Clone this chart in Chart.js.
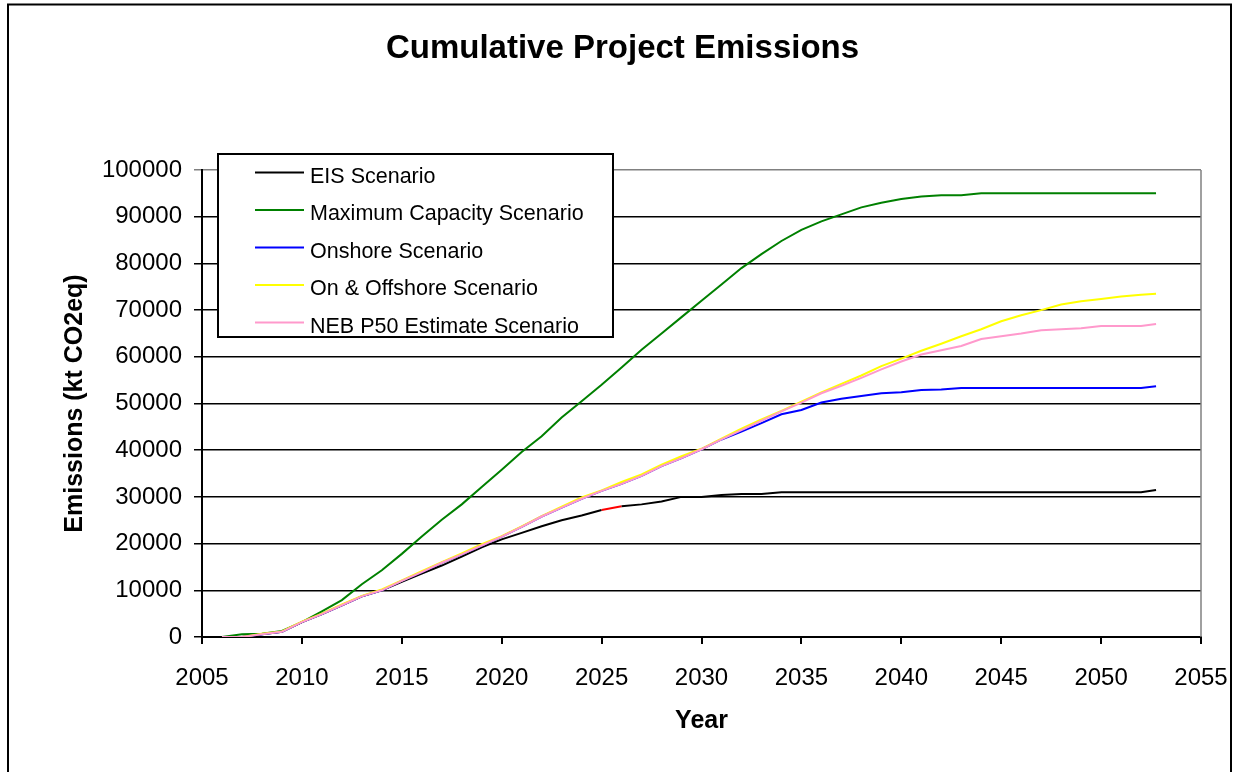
<!DOCTYPE html>
<html>
<head>
<meta charset="utf-8">
<script src="https://cdn.jsdelivr.net/npm/chart.js@4"></script>
<style>
  html, body { margin: 0; padding: 0; background: #fff; }
  canvas { display: block; }
</style>
</head>
<body>
<canvas id="c" width="1235" height="772"></canvas>
<script>
// ---- Data ----
const years = [2006, 2007, 2008, 2009, 2010, 2011, 2012, 2013, 2014, 2015,
  2016, 2017, 2018, 2019, 2020, 2021, 2022, 2023, 2024, 2025,
  2026, 2027, 2028, 2029, 2030, 2031, 2032, 2033, 2034, 2035,
  2036, 2037, 2038, 2039, 2040, 2041, 2042, 2043, 2044, 2045,
  2046, 2047, 2048, 2049, 2050, 2051, 2052, 2052.75];

const eisScenario = [0, 0, 600, 1100, 3200, 4900, 6800, 8700, 10000, 11800,
  13600, 15300, 17200, 19200, 20900, 22300, 23700, 25000, 26000, 27200,
  28000, 28400, 29000, 30000, 30000, 30400, 30600, 30600, 31000, 31000,
  31000, 31000, 31000, 31000, 31000, 31000, 31000, 31000, 31000, 31000,
  31000, 31000, 31000, 31000, 31000, 31000, 31000, 31500];

const maxCapacityScenario = [0, 600, 700, 1300, 3200, 5500, 7900, 11300, 14300, 17800,
  21500, 25100, 28400, 32100, 35800, 39600, 43000, 47000, 50500, 54000,
  57700, 61500, 65000, 68500, 72000, 75500, 79000, 82000, 84800, 87200,
  89000, 90500, 92000, 93000, 93800, 94300, 94600, 94600, 95000, 95000,
  95000, 95000, 95000, 95000, 95000, 95000, 95000, 95000];

const onshoreScenario = [0, 0, 600, 1100, 3200, 4900, 6800, 8700, 10000, 12000,
  13900, 15900, 17700, 19600, 21500, 23600, 25800, 27700, 29600, 31300,
  32800, 34500, 36600, 38300, 40200, 42300, 44000, 45800, 47700, 48600,
  50200, 51000, 51600, 52200, 52400, 52900, 53000, 53300, 53300, 53300,
  53300, 53300, 53300, 53300, 53300, 53300, 53300, 53700];

const onOffshoreScenario = [0, 0, 700, 1200, 3300, 5000, 7000, 8800, 10200, 12100,
  14100, 16000, 17900, 19900, 21600, 23700, 25900, 27900, 29900, 31400,
  33200, 34800, 36900, 38700, 40300, 42500, 44600, 46600, 48400, 50400,
  52400, 54200, 56000, 58000, 59600, 61300, 62800, 64400, 65900, 67600,
  68900, 70000, 71200, 71900, 72400, 72900, 73300, 73500];

const nebP50Scenario = [0, 0, 600, 1100, 3200, 4900, 6800, 8700, 10000, 12000,
  13900, 15900, 17700, 19600, 21500, 23600, 25800, 27700, 29600, 31300,
  32800, 34500, 36600, 38300, 40200, 42300, 44300, 46300, 48300, 50200,
  52200, 53800, 55500, 57300, 59000, 60500, 61400, 62300, 63800, 64400,
  65000, 65700, 65900, 66100, 66600, 66600, 66600, 67000];

const seriesLabels = ['EIS Scenario', 'Maximum Capacity Scenario', 'Onshore Scenario',
  'On & Offshore Scenario', 'NEB P50 Estimate Scenario'];
const xTicks = [2005, 2010, 2015, 2020, 2025, 2030, 2035, 2040, 2045, 2050, 2055];
const yTicks = [0, 10000, 20000, 30000, 40000, 50000, 60000, 70000, 80000, 90000, 100000];
const highlightedSegmentStart = 2025; // EIS segment drawn in red (2025 -> 2026)

// ---- Build chart ----
const FONT = "'Liberation Sans', Arial, Helvetica, sans-serif";
const colors = ['#000000', '#008000', '#0000ff', '#ffff00', '#ff99cc'];
const seriesValues = [eisScenario, maxCapacityScenario, onshoreScenario, onOffshoreScenario, nebP50Scenario];

const datasets = seriesValues.map((vals, i) => ({
  label: seriesLabels[i],
  data: years.map((y, k) => ({ x: y, y: vals[k] })),
  borderColor: colors[i],
  backgroundColor: colors[i],
  borderWidth: 2,
  pointRadius: 0,
  tension: 0,
  fill: false,
  order: seriesValues.length - 1 - i,
  segment: i === 0 ? {
    borderColor: ctx => ctx.p0.parsed.x === highlightedSegmentStart ? '#ff0000' : undefined
  } : undefined
}));

const frame = {
  id: 'frame',
  beforeDraw(chart) {
    const ctx = chart.ctx;
    ctx.save();
    ctx.fillStyle = '#fff';
    ctx.fillRect(0, 0, chart.width, chart.height);
    ctx.strokeStyle = '#000';
    ctx.lineWidth = 2;
    ctx.beginPath();
    ctx.moveTo(8, chart.height + 5);
    ctx.lineTo(8, 4.5);
    ctx.lineTo(1231, 4.5);
    ctx.lineTo(1231, chart.height + 5);
    ctx.stroke();
    ctx.restore();
  },
  beforeDatasetsDraw(chart) {
    const a = chart.chartArea, ctx = chart.ctx;
    ctx.save();
    ctx.strokeStyle = '#808080';
    ctx.lineWidth = 1.5;
    ctx.beginPath();
    ctx.moveTo(a.right, a.top);
    ctx.lineTo(a.right, a.bottom);
    ctx.stroke();
    ctx.restore();
  }
};

const boxLegend = {
  id: 'boxLegend',
  afterDraw(chart) {
    const ctx = chart.ctx;
    const L = 218, T = 154, W = 395, H = 183;
    ctx.save();
    ctx.fillStyle = '#fff';
    ctx.fillRect(L, T, W, H);
    ctx.strokeStyle = '#000';
    ctx.lineWidth = 2;
    ctx.strokeRect(L, T, W, H);
    ctx.font = '21.5px ' + FONT;
    ctx.textBaseline = 'alphabetic';
    ctx.textAlign = 'left';
    chart.data.datasets.forEach((ds, i) => {
      const y = 172.5 + i * 37.5;
      ctx.strokeStyle = ds.borderColor;
      ctx.lineWidth = 2;
      ctx.beginPath();
      ctx.moveTo(255, y);
      ctx.lineTo(304, y);
      ctx.stroke();
      ctx.fillStyle = '#000';
      ctx.fillText(ds.label, 310, y + 10);
    });
    ctx.restore();
  }
};

Chart.defaults.color = '#000';
Chart.defaults.font.family = FONT;

new Chart(document.getElementById('c'), {
  type: 'line',
  data: { datasets },
  plugins: [frame, boxLegend],
  options: {
    responsive: false,
    animation: false,
    events: [],
    layout: { padding: { top: 0, right: 34, bottom: 0, left: 44 } },
    plugins: {
      legend: { display: false },
      tooltip: { enabled: false },
      title: {
        display: true,
        text: 'Cumulative Project Emissions',
        color: '#000',
        font: { size: 33, weight: 'bold', family: FONT },
        padding: { top: 29, bottom: 101.4 }
      }
    },
    scales: {
      x: {
        type: 'linear',
        min: xTicks[0],
        max: xTicks[xTicks.length - 1],
        afterBuildTicks: s => { s.ticks = xTicks.map(v => ({ value: v })); },
        afterFit: s => { s.height = 135; s.paddingLeft = 0; s.paddingRight = 0; },
        ticks: {
          callback: v => String(v),
          font: { size: 24, family: FONT },
          color: '#000',
          padding: 20,
          maxRotation: 0,
          autoSkip: false
        },
        grid: { drawOnChartArea: false, drawTicks: true, tickLength: 7, color: '#000', lineWidth: 2 },
        border: { display: true, color: '#000', width: 2 },
        title: {
          display: true,
          text: 'Year',
          color: '#000',
          font: { size: 25, weight: 'bold', family: FONT },
          padding: { top: 0, bottom: 36 }
        }
      },
      y: {
        type: 'linear',
        min: yTicks[0],
        max: yTicks[yTicks.length - 1],
        afterBuildTicks: s => { s.ticks = yTicks.map(v => ({ value: v })); },
        afterFit: s => { s.width = 158; },
        ticks: {
          callback: v => String(v),
          font: { size: 24, family: FONT },
          color: '#000',
          padding: 12,
          autoSkip: false
        },
        grid: {
          drawTicks: true,
          tickLength: 8,
          color: c => (c.tick && c.tick.value === yTicks[yTicks.length - 1]) ? '#808080' : '#000',
          lineWidth: 1.5
        },
        border: { display: true, color: '#000', width: 2 },
        title: {
          display: true,
          text: 'Emissions (kt CO2eq)',
          color: '#000',
          font: { size: 25, weight: 'bold', family: FONT },
          padding: { top: 16, bottom: 0 }
        }
      }
    }
  }
});
</script>
</body>
</html>
